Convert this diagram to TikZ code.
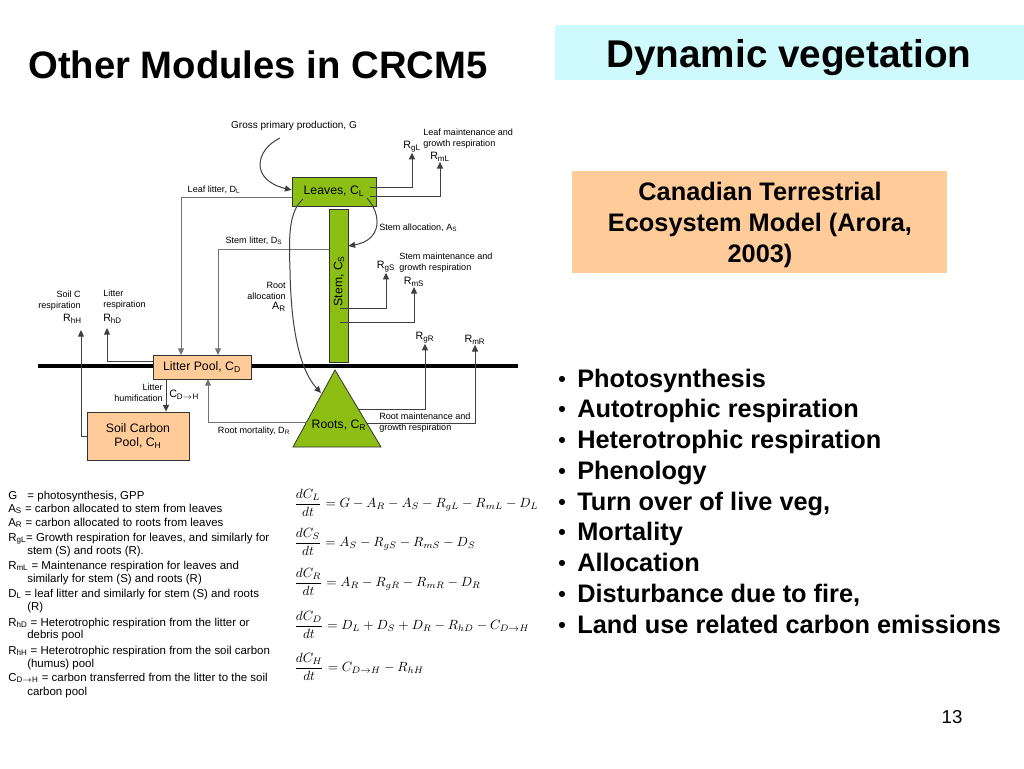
\documentclass[tikz,border=0pt]{standalone}
\usepackage{amsmath}
\usepackage{fontspec}
\setmainfont{Liberation Sans}
\usetikzlibrary{arrows.meta,calc}
\definecolor{veg}{RGB}{140,190,20}
\definecolor{peach}{RGB}{255,204,153}
\definecolor{cyanbg}{RGB}{206,250,253}
\newcommand\sbx[1]{\textsubscript{#1}}
\begin{document}
\begin{tikzpicture}[x=0.75pt,y=-0.75pt,
  tx/.style={font=\fontsize{6.8}{8.2}\selectfont, inner sep=0pt},
  rl/.style={font=\fontsize{8}{9}\selectfont, inner sep=0pt},
  bx/.style={draw=black!80, line width=0.6pt, font=\fontsize{9.2}{11}\selectfont, inner sep=0pt, align=center},
  ln/.style={draw=black!75, line width=0.75pt},
  ar/.style={ln, -{Triangle[length=5pt,width=4.5pt]}},
  gl/.style={ln, draw=black!55},
  leg/.style={font=\fontsize{8.6}{10}\selectfont, inner sep=0pt, anchor=base west},
  eq/.style={font=\fontsize{10}{12}\selectfont, inner sep=0pt, anchor=west},
  bul/.style={font=\bfseries\fontsize{19}{22}\selectfont, inner sep=0pt, anchor=base west},
  dot/.style={font=\bfseries\fontsize{16}{20}\selectfont, inner sep=0pt, anchor=base west}]
\useasboundingbox (0,0) rectangle (1024,768);
\fill[white] (0,0) rectangle (1024,768);

% ---- titles ----
\node[inner sep=0pt, anchor=base west, font=\bfseries\fontsize{28.7}{32}\selectfont] (title) at (28,78) {Other Modules in CRCM5};
\fill[cyanbg] (555,25) rectangle (1024,80);
\node[inner sep=0pt, anchor=base, font=\bfseries\fontsize{29}{32}\selectfont] (dyn) at (789,67) {Dynamic vegetation};
\fill[peach] (572,171) rectangle (947,273);
\node[inner sep=0pt, anchor=base, align=center, font=\bfseries\fontsize{19}{23.2}\selectfont] (ctem) at (760,262) {Canadian Terrestrial\\Ecosystem Model (Arora,\\2003)};

% ---- bullets ----
\foreach \t [count=\i from 0] in {Photosynthesis,Autotrophic respiration,Heterotrophic respiration,Phenology,{Turn over of live veg,},Mortality,Allocation,{Disturbance due to fire,},Land use related carbon emissions}{
  \node[dot] (d\i) at (558,386+30.75*\i) {•};
  \node[bul] (b\i) at (577,387+30.75*\i) {\t};
}
\node[inner sep=0pt, anchor=base, font=\fontsize{14}{16}\selectfont] (pg) at (952,723) {13};

% ---- ground line ----
\coordinate (g1) at (38,366);
\coordinate (g2) at (518,366);
\draw[line width=2.3pt] (g1) -- (g2);

% ---- pools ----
\node[bx, fill=veg, minimum width=63pt, minimum height=21.75pt] (leaves) at (334,191.5) {Leaves, C\sbx{L}};
\node[bx, fill=veg, minimum width=14.25pt, minimum height=114.75pt] (stem) at (338.5,285.5) {};
\node[inner sep=0pt, rotate=90, font=\fontsize{9.2}{11}\selectfont] (stemt) at (339,281) {Stem, C\sbx{S}};
\node[bx, fill=peach, minimum width=73.5pt, minimum height=18pt] (litter) at (202,367) {Litter Pool, C\sbx{D}};
\node[bx, fill=peach, minimum width=76.5pt, minimum height=36pt] (soil) at (138,436) {Soil Carbon\\Pool, C\sbx{H}};
\coordinate (rtop) at (335,370);
\coordinate (rbl) at (293,447);
\coordinate (rbr) at (381,447);
\draw[fill=veg, draw=black!80, line width=0.6pt] (rtop) -- (rbr) -- (rbl) -- cycle;
\node[inner sep=0pt, font=\fontsize{9.2}{11}\selectfont] (roots) at (339,425) {Roots, C\sbx{R}};

% ---- labels ----
\node[inner sep=0pt, font=\fontsize{7.5}{9}\selectfont] (gpp) at (294,126) {Gross primary production, G};
\node[tx, anchor=west, align=left] (lmr) at (423,138.5) {Leaf maintenance and\\growth respiration};
\node[rl] (RgL) at (412,147) {R\sbx{gL}};
\node[rl] (RmL) at (440,157) {R\sbx{mL}};
\node[tx] (dl) at (214,190) {Leaf litter, D\sbx{L}};
\node[tx] (ds) at (254,241) {Stem litter, D\sbx{S}};
\node[tx, anchor=west] (as) at (379,228) {Stem allocation, A\sbx{S}};
\node[tx, anchor=east, align=right] (ar) at (286,297) {Root\\allocation\\[-1pt]{\fontsize{8}{9}\selectfont A\sbx{R}}};
\node[tx, anchor=west, align=left] (smr) at (399,263) {Stem maintenance and\\growth respiration};
\node[rl] (RgS) at (386,267) {R\sbx{gS}};
\node[rl] (RmS) at (414,282) {R\sbx{mS}};
\node[rl] (RgR) at (425,338) {R\sbx{gR}};
\node[rl] (RmR) at (475,340) {R\sbx{mR}};
\node[tx, anchor=west, align=left] (rmr) at (379,422.5) {Root maintenance and\\growth respiration};
\node[tx] (dr) at (254,431) {Root mortality, D\sbx{R}};
\node[tx, anchor=east, align=right] (hum) at (163,392.5) {Litter\\humification};
\node[rl, anchor=west] (cdh) at (169,395) {C\sbx{D$\rightarrow$H}};
\node[tx, anchor=east, align=right] (scr) at (81,300.5) {Soil C\\respiration};
\node[rl, anchor=east] (RhH) at (82,319) {R\sbx{hH}};
\node[tx, anchor=west, align=left] (lr) at (103,299.5) {Litter\\respiration};
\node[rl, anchor=west] (RhD) at (103,319) {R\sbx{hD}};

% ---- connectors ----
\coordinate (gs) at (280,138);
\draw[ar] (gs) .. controls (255,150) and (250,180) .. (leaves.west |- 0,190);
\draw[ar] (370,187) -| (RgL.south);
\draw[ar] (370,196) -| (RmL.south);
\draw[ar, gl] (leaves.west |- 0,197) -| (181,355);
\draw[ar, gl] (stem.west |- 0,249) -| (218,355);
\draw[ar] (367,198) .. controls (382,215) and (382,240) .. (stem.east |- 0,246);
\draw[ar] (303,199) .. controls (288,212) and (289,240) .. (290,270) .. controls (291,330) and (300,370) .. (321,393);
\draw[ar] (340,308) -| (RgS.south);
\draw[ar] (340,322) -| (RmS.south);
\draw[ar] (358,409) -| (RgR.south);
\draw[ar] (367,423) -| (RmR.south);
\draw[ar, gl] (307,422) -| (208,379);
\draw[ar] (166,379) -- (soil.north -| 166,0);
\draw[ar] (litter.west |- 0,361) -| (107,328);
\draw[ar] (soil.west |- 0,436) -| (81,330);

% ---- legend ----
\node[leg] (l1) at (8,499) {G\hspace{0.9em}= photosynthesis, GPP};
\node[leg] (l2) at (8,512) {A\sbx{S} = carbon allocated to stem from leaves};
\node[leg] (l3) at (8,526) {A\sbx{R} = carbon allocated to roots from leaves};
\node[leg] (l4) at (8,541) {R\sbx{gL}= Growth respiration for leaves, and similarly for};
\node[leg] (l5) at (27,554) {stem (S) and roots (R).};
\node[leg] (l6) at (8,569) {R\sbx{mL} = Maintenance respiration for leaves and};
\node[leg] (l7) at (27,582) {similarly for stem (S) and roots (R)};
\node[leg] (l8) at (8,597) {D\sbx{L} = leaf litter and similarly for stem (S) and roots};
\node[leg] (l9) at (27,610) {(R)};
\node[leg] (l10) at (8,626) {R\sbx{hD} = Heterotrophic respiration from the litter or};
\node[leg] (l11) at (27,638) {debris pool};
\node[leg] (l12) at (8,654) {R\sbx{hH} = Heterotrophic respiration from the soil carbon};
\node[leg] (l13) at (27,667) {(humus) pool};
\node[leg] (l14) at (8,681) {C\sbx{D$\rightarrow$H} = carbon transferred from the litter to the soil};
\node[leg] (l15) at (27,695) {carbon pool};

% ---- equations ----
\node[eq] (e1) at (294,503) {$\dfrac{dC_L}{dt} = G - A_R - A_S - R_{gL} - R_{mL} - D_L$};
\node[eq] (e2) at (294,542) {$\dfrac{dC_S}{dt} = A_S - R_{gS} - R_{mS} - D_S$};
\node[eq] (e3) at (294,582) {$\dfrac{dC_R}{dt} = A_R - R_{gR} - R_{mR} - D_R$};
\node[eq] (e4) at (294,625) {$\dfrac{dC_D}{dt} = D_L + D_S + D_R - R_{hD} - C_{D\rightarrow H}$};
\node[eq] (e5) at (294,667) {$\dfrac{dC_H}{dt} = C_{D\rightarrow H} - R_{hH}$};
\end{tikzpicture}
\end{document}
